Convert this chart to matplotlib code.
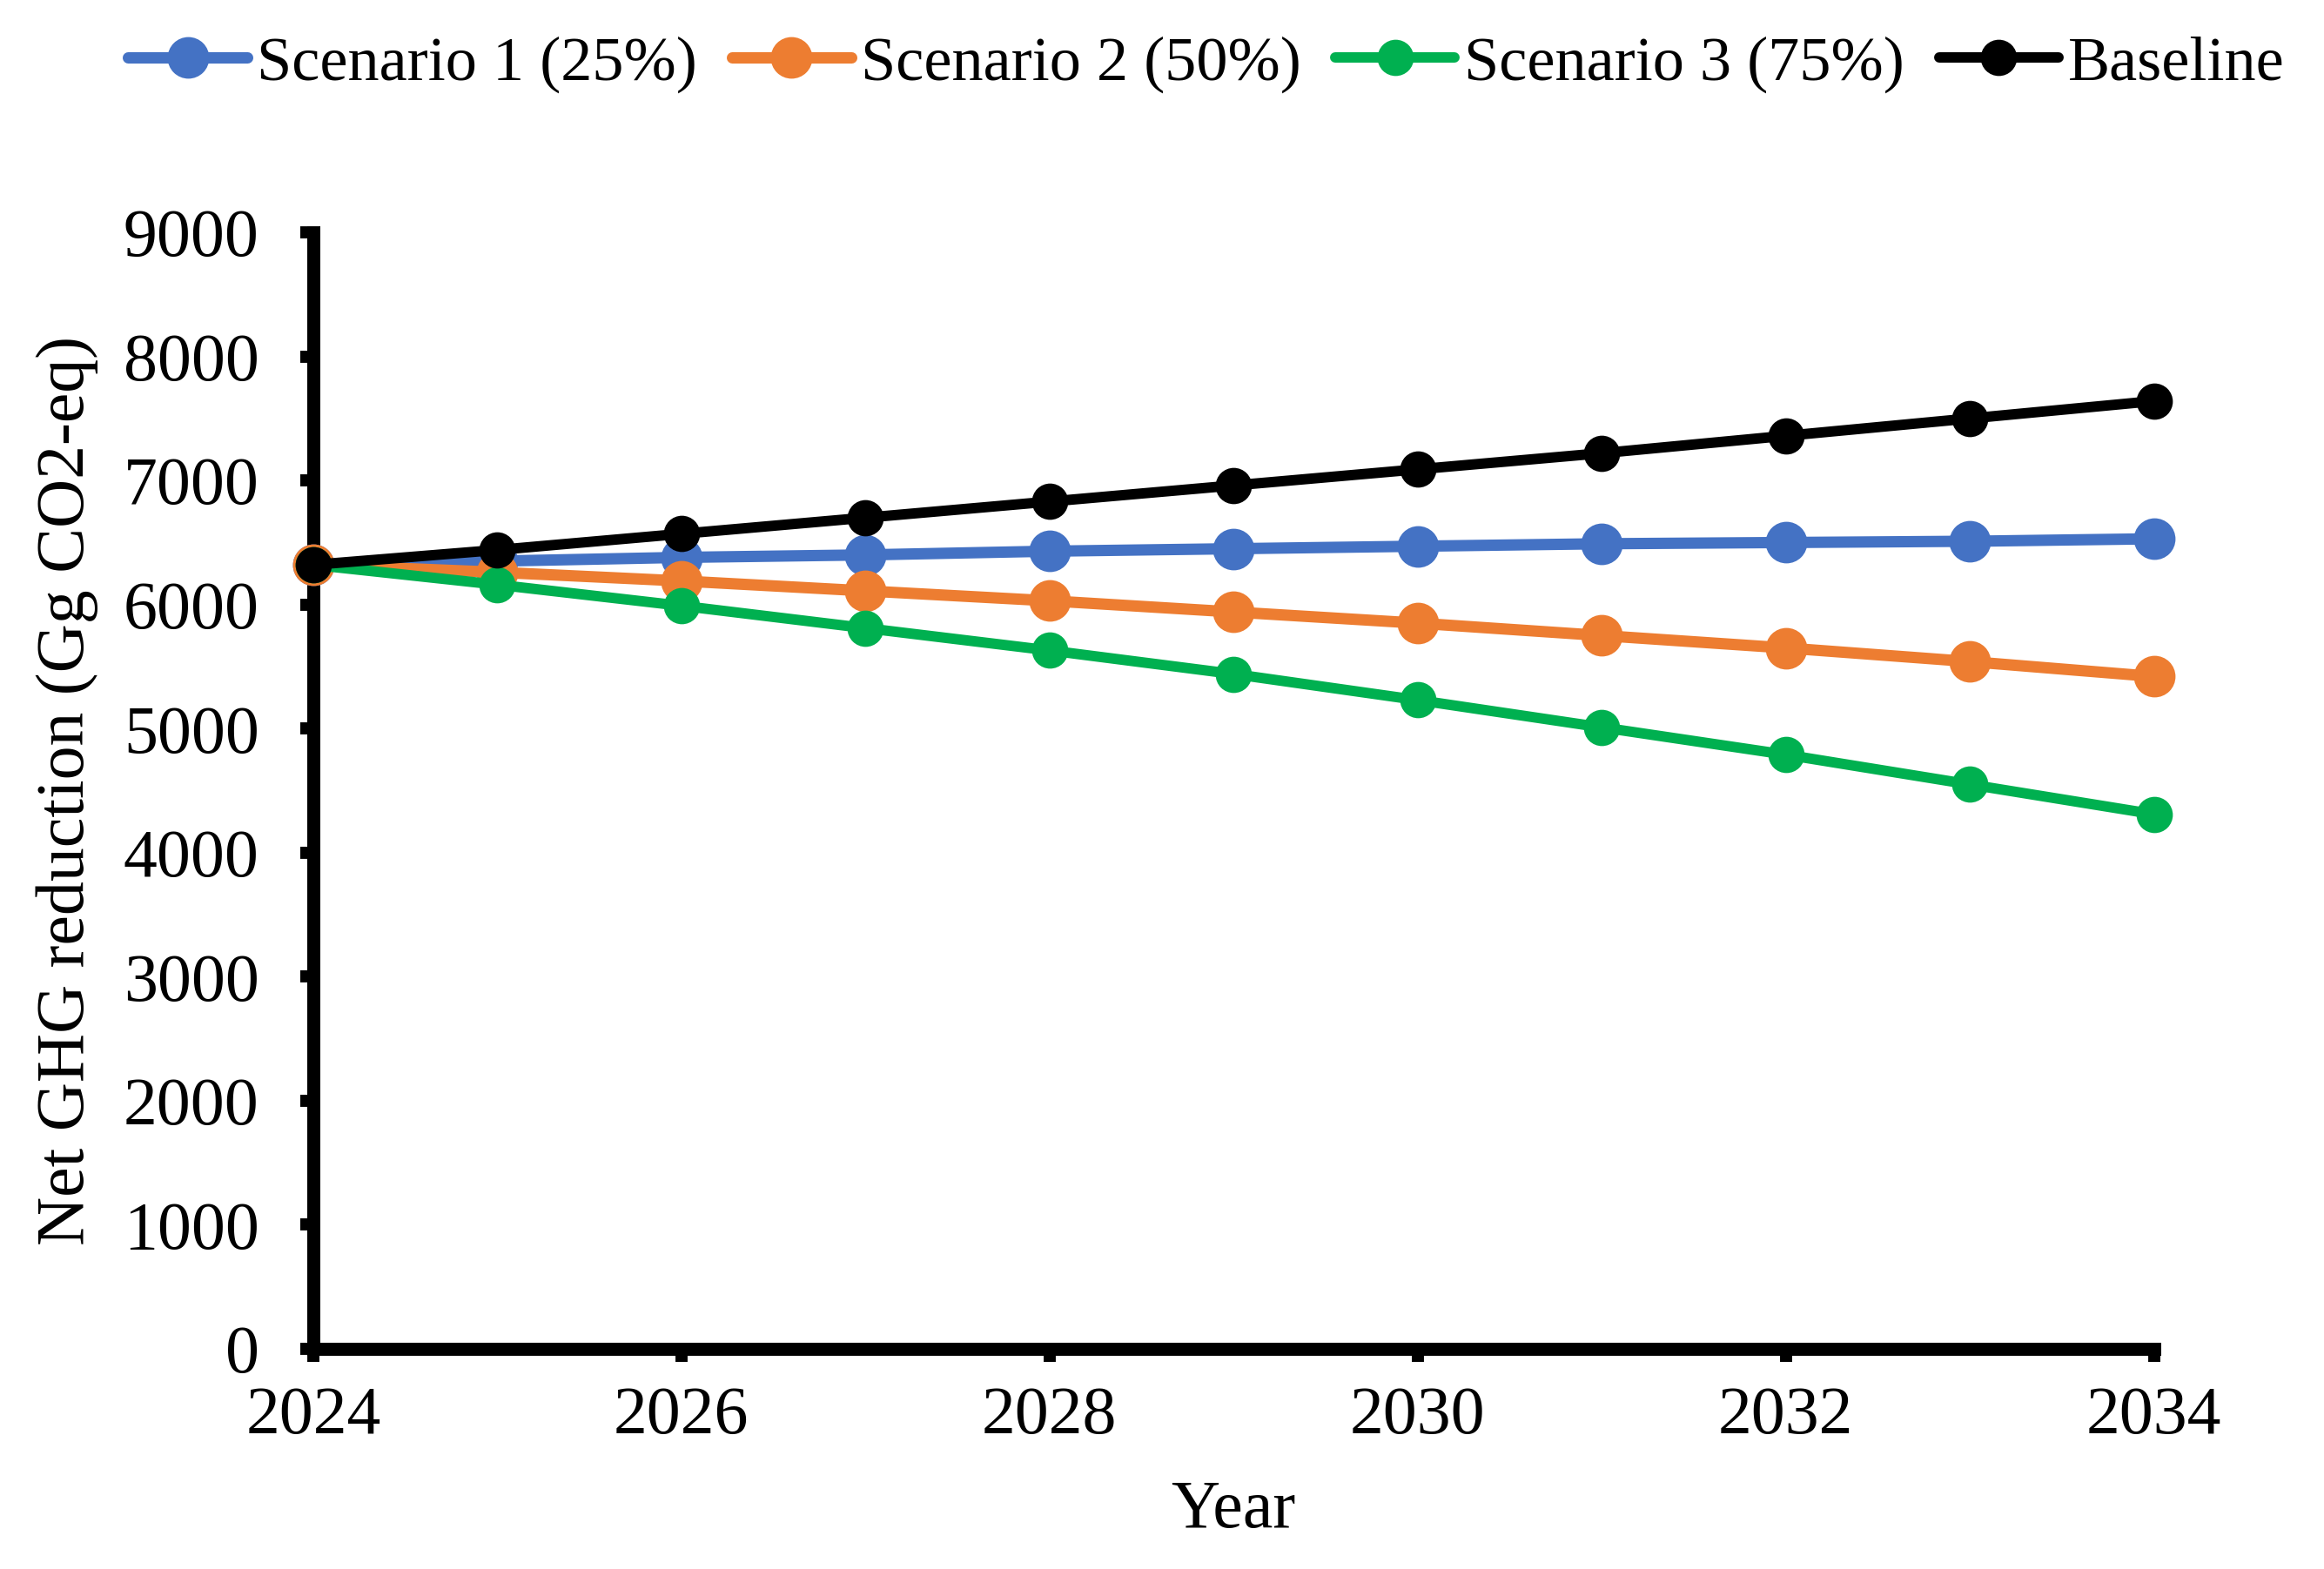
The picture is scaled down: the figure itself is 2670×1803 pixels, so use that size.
import numpy as np
import matplotlib
matplotlib.use("Agg")
import matplotlib.pyplot as plt

# データ
years = [2024, 2025, 2026, 2027, 2028, 2029, 2030, 2031, 2032, 2033, 2034]
scenario1 = [6320, 6350, 6380, 6400, 6430, 6450, 6470, 6490, 6500, 6510, 6530]
scenario2 = [6320, 6260, 6190, 6110, 6030, 5940, 5850, 5750, 5650, 5540, 5420]
scenario3 = [6320, 6160, 5990, 5810, 5630, 5440, 5230, 5010, 4790, 4550, 4310]
baseline = [6320, 6440, 6570, 6700, 6830, 6960, 7090, 7220, 7360, 7500, 7640]

labels = ["Scenario 1 (25%)", "Scenario 2 (50%)", "Scenario 3 (75%)", "Baseline"]
colors = ["#4472C4", "#ED7D31", "#00B050", "#000000"]

plt.rcParams["font.family"] = ["Liberation Serif", "DejaVu Serif"]

fig = plt.figure(figsize=(13.35, 9.015), dpi=200)
ax = fig.add_axes([0.1348, 0.1403, 0.792, 0.7116])

series = [scenario1, scenario2, scenario3, baseline]
msizes = [16.2, 16.2, 14.0, 14.0]
lwidths = [4.7, 4.7, 4.3, 4.3]
for s, lab, c, ms, lw in zip(series, labels, colors, msizes, lwidths):
    ax.plot(years, s, "o-", color=c, label=lab, markersize=ms, linewidth=lw,
            solid_capstyle="round", clip_on=False, zorder=3)

# 横軸の設定
ax.set_xlim(2024, 2034)
ax.set_xticks(np.arange(2024, 2035, 2))
ax.set_xlabel("Year", fontsize=28, labelpad=13)

# 縦軸の設定
ax.set_ylim(0, 9000)
ax.set_yticks(np.arange(0, 9001, 1000))
ax.set_ylabel("Net GHG reduction (Gg CO2-eq)", fontsize=28)
ax.yaxis.set_label_coords(-0.117, 0.5)

for sp in ["top", "right"]:
    ax.spines[sp].set_visible(False)
for sp in ["left", "bottom"]:
    ax.spines[sp].set_linewidth(5.4)
ax.tick_params(axis="both", which="major", direction="out", length=5.4,
               width=5.0, labelsize=28)
ax.tick_params(axis="y", pad=17)
ax.tick_params(axis="x", pad=10)

fig.legend(loc="center", bbox_to_anchor=(0.519, 0.959), ncol=4, frameon=False,
           fontsize=26, handlelength=1.9, handletextpad=0.15,
           columnspacing=0.55, borderpad=0.1)

fig.savefig("out.png", dpi=200)
